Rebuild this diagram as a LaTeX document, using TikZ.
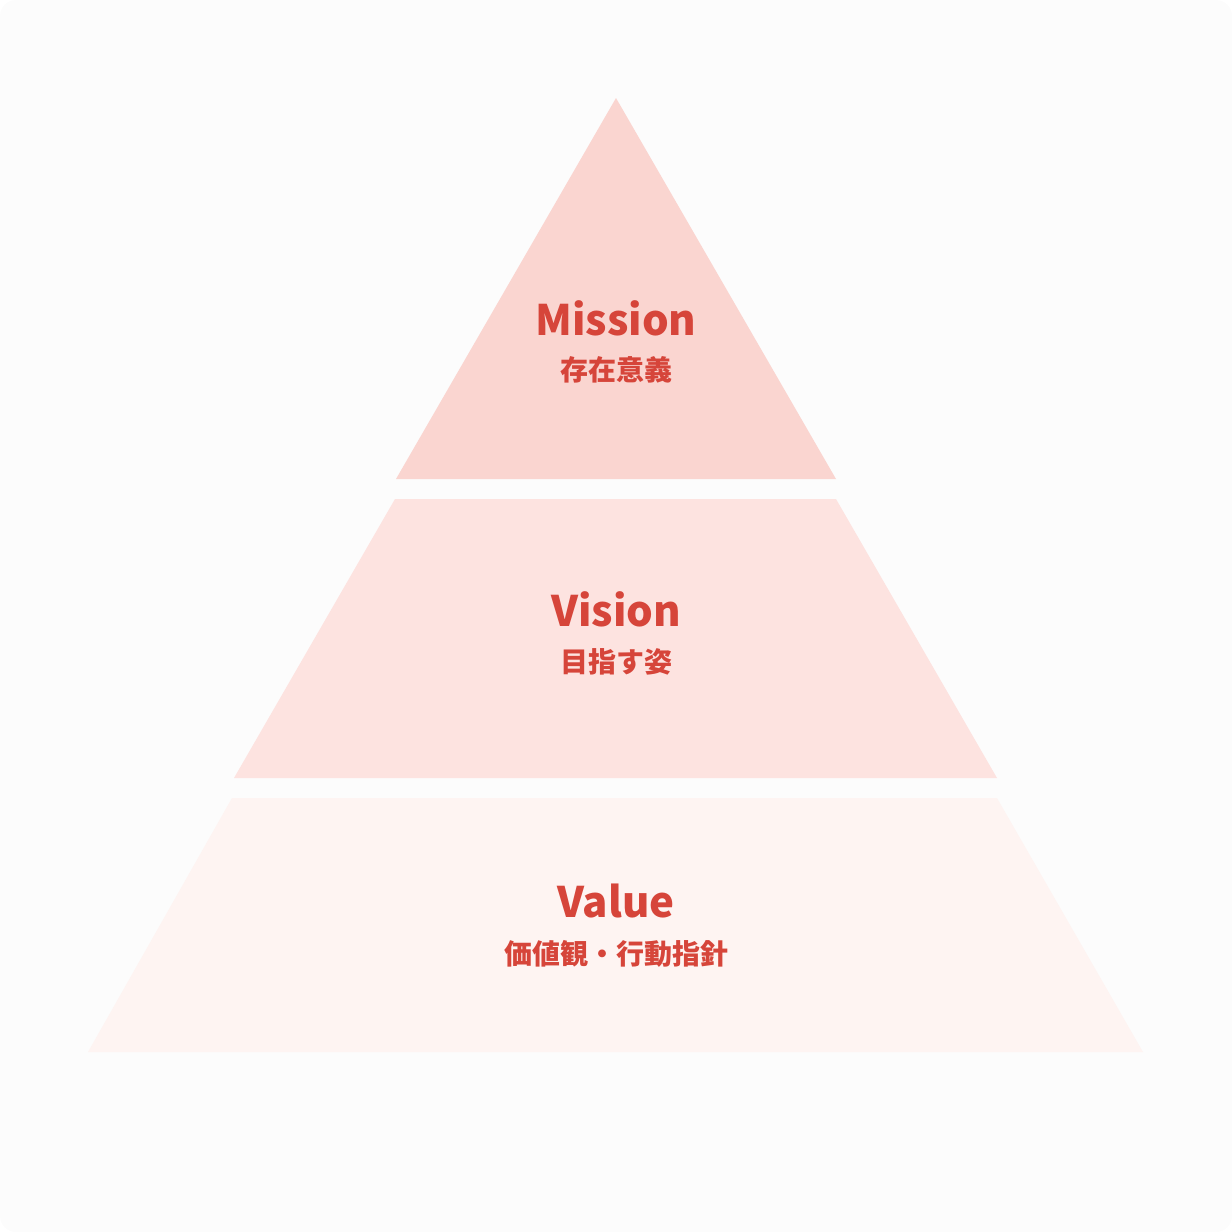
\documentclass[tikz,border=0pt]{standalone}
\usepackage{fontspec}
\setmainfont{Noto Sans CJK JP}
\newfontfamily\cjk{Noto Sans CJK JP}
\definecolor{bgcol}{HTML}{FCFCFC}
\definecolor{topcol}{HTML}{FAD5D0}
\definecolor{midcol}{HTML}{FDE3E0}
\definecolor{lowcol}{HTML}{FEF4F2}
\definecolor{txtcol}{HTML}{D6453A}
\begin{document}
\begin{tikzpicture}[x=0.5pt,y=-0.5pt]
\tikzstyle{title}=[text=txtcol, font=\cjk\fontsize{21}{24}\selectfont\bfseries]
\tikzstyle{sub}=[text=txtcol, font=\cjk\fontsize{14}{16}\selectfont\bfseries]
\fill[bgcol, rounded corners=8pt] (0,0) rectangle (1232,1232);
\useasboundingbox (0,0) rectangle (1232,1232);
% layers
\fill[topcol] (616,98) -- (836,479) -- (396,479) -- cycle;
\fill[midcol] (395,499) -- (836,499) -- (997,778) -- (234,778) -- cycle;
\fill[lowcol] (232,798) -- (997,798) -- (1143,1052) -- (88,1052) -- cycle;
% labels
\node[title] (mission) at (616,318) {Mission};
\node[sub] (missionjp) at (616,370) {存在意義};
\node[title] (vision) at (616,609) {Vision};
\node[sub] (visionjp) at (616,662) {目指す姿};
\node[title] (value) at (616,901) {Value};
\node[sub] (valuejp) at (616,954) {価値観・行動指針};
\end{tikzpicture}
\end{document}
